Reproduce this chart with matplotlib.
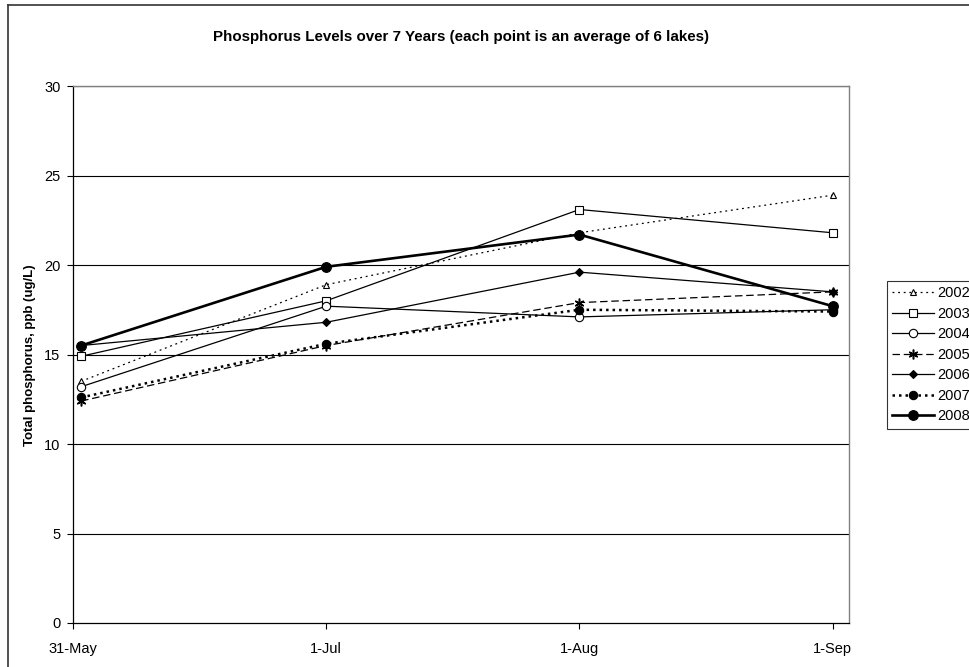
import matplotlib
matplotlib.use("Agg")
import matplotlib.pyplot as plt
from matplotlib.lines import Line2D

plt.rcParams['font.family'] = ['Liberation Sans', 'DejaVu Sans']

# ---- data ----
sample_days = [1, 31, 62, 93]            # days after 31-May (1-Jun, 1-Jul, 1-Aug, 1-Sep)
tick_days = [0, 31, 62, 93]
tick_labels = ["31-May", "1-Jul", "1-Aug", "1-Sep"]
years = ["2002", "2003", "2004", "2005", "2006", "2007", "2008"]

p2002 = [13.5, 18.9, 21.8, 23.9]
p2003 = [14.9, 18.0, 23.1, 21.8]
p2004 = [13.2, 17.7, 17.1, 17.5]
p2005 = [12.4, 15.5, 17.9, 18.5]
p2006 = [15.5, 16.8, 19.6, 18.5]
p2007 = [12.6, 15.6, 17.5, 17.4]
p2008 = [15.5, 19.9, 21.7, 17.7]
series = [p2002, p2003, p2004, p2005, p2006, p2007, p2008]

styles = [
    dict(ls=(0, (1.5, 3)), lw=0.9, marker='^', ms=5, mfc='white', mec='black', mew=0.8),
    dict(ls='-', lw=0.9, marker='s', ms=5.5, mfc='white', mec='black', mew=0.8),
    dict(ls='-', lw=0.9, marker='o', ms=6, mfc='white', mec='black', mew=0.8),
    dict(ls=(0, (6, 3)), lw=0.9, marker=(6, 2, 0), ms=7, mfc='black', mec='black', mew=1.1),
    dict(ls='-', lw=0.9, marker='D', ms=4.5, mfc='black', mec='black', mew=0.8),
    dict(ls=(0, (1, 1.6)), lw=1.8, marker='o', ms=6, mfc='black', mec='black', mew=0.8),
    dict(ls='-', lw=1.9, marker='o', ms=7, mfc='black', mec='black', mew=0.8),
]

W, H = 969, 667
fig = plt.figure(figsize=(W / 100, H / 100), dpi=100)

# outer chart border (left & top visible, rest cut off)
fig.add_artist(Line2D([8 / W, 8 / W], [0, 1 - 5 / H], color='#333333', lw=1.2,
                      transform=fig.transFigure))
fig.add_artist(Line2D([8 / W, 1.0], [1 - 5 / H, 1 - 5 / H], color='#333333', lw=1.2,
                      transform=fig.transFigure))

ax = fig.add_axes([73 / W, 1 - 623 / H, (849 - 73) / W, (623 - 86) / H])

for y in range(5, 31, 5):
    ax.axhline(y, color='black', lw=0.8, zorder=1)

for yr, vals, st in zip(years, series, styles):
    ax.plot(sample_days, vals, color='black', label=yr, zorder=3,
            linestyle=st['ls'], linewidth=st['lw'], marker=st['marker'],
            markersize=st['ms'], markerfacecolor=st['mfc'],
            markeredgecolor=st['mec'], markeredgewidth=st['mew'])

ax.set_xlim(0, 95)
ax.set_ylim(0, 30)
ax.set_xticks(tick_days)
ax.set_xticklabels(tick_labels)
ax.set_yticks(range(0, 31, 5))
ax.tick_params(direction='out', length=4, width=0.8, labelsize=10.5, colors='black')
ax.tick_params(axis='x', pad=10)
ax.tick_params(axis='y', pad=5)
for s in ['top', 'right']:
    ax.spines[s].set_color('#808080')
    ax.spines[s].set_linewidth(1.0)
for s in ['left', 'bottom']:
    ax.spines[s].set_color('black')
    ax.spines[s].set_linewidth(0.9)

fig.text(461 / W, 1 - 37 / H,
         "Phosphorus Levels over 7 Years (each point is an average of 6 lakes)",
         ha='center', va='center', fontsize=10.9, fontweight='bold')
fig.text(30 / W, 1 - 355 / H, "Total phosphorus, ppb (ug/L)", rotation=90,
         ha='center', va='center', fontsize=9.5, fontweight='bold')

leg = fig.legend(loc='upper left', bbox_to_anchor=(887 / W, 1 - 281 / H),
                 bbox_transform=fig.transFigure, frameon=True, fancybox=False,
                 fontsize=10.5, handlelength=2.9, handletextpad=0.2,
                 labelspacing=0.45, borderpad=0.35, borderaxespad=0)
leg.get_frame().set_edgecolor('black')
leg.get_frame().set_linewidth(0.8)

fig.savefig("out.png", dpi=100, facecolor='white')
